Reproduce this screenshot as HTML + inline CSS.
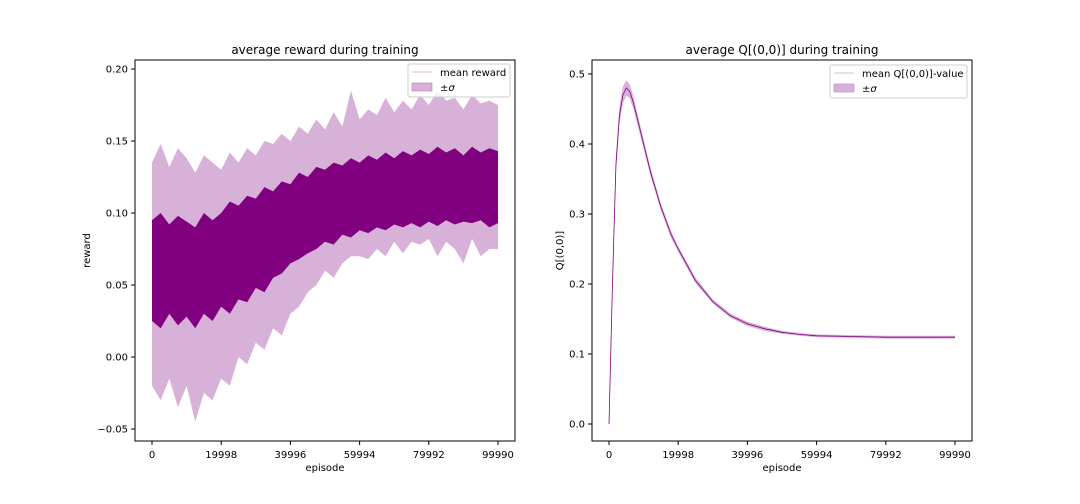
<!DOCTYPE html>
<html><head><meta charset="utf-8"><style>
body{margin:0;background:#fff;}
svg{display:block;font-family:"DejaVu Sans","Liberation Sans",sans-serif;}
</style></head><body>
<svg id="fig" width="1080" height="504" viewBox="0 0 1080 504" xmlns="http://www.w3.org/2000/svg">
<rect width="1080" height="504" fill="#fff"/>
<g id="left"></g>
<g id="right"></g>
</svg>
<script>
// ---- reward chart data (sampled every 2500 episodes) ----
const rewardEpisodes = [0,2500,5000,7500,10000,12500,15000,17500,20000,22500,25000,27500,30000,32500,35000,37500,40000,42500,45000,47500,50000,52500,55000,57500,60000,62500,65000,67500,70000,72500,75000,77500,80000,82500,85000,87500,90000,92500,95000,97500,99990];
const rewardLightUpper = [0.135,0.148,0.132,0.145,0.138,0.128,0.140,0.135,0.130,0.142,0.135,0.145,0.140,0.150,0.148,0.155,0.150,0.160,0.155,0.165,0.158,0.170,0.160,0.185,0.165,0.172,0.168,0.180,0.170,0.178,0.172,0.182,0.175,0.185,0.178,0.180,0.172,0.182,0.176,0.178,0.175];
const rewardLightLower = [-0.02,-0.03,-0.015,-0.035,-0.02,-0.045,-0.025,-0.03,-0.015,-0.02,0.0,-0.005,0.01,0.005,0.02,0.015,0.03,0.035,0.045,0.05,0.06,0.055,0.065,0.07,0.07,0.068,0.075,0.07,0.08,0.072,0.08,0.078,0.082,0.07,0.08,0.075,0.065,0.082,0.07,0.075,0.075];
const rewardDarkUpper = [0.095,0.1,0.092,0.098,0.094,0.09,0.1,0.095,0.1,0.108,0.105,0.112,0.11,0.118,0.115,0.122,0.12,0.128,0.125,0.132,0.13,0.135,0.133,0.138,0.135,0.14,0.137,0.142,0.138,0.143,0.14,0.144,0.141,0.146,0.142,0.145,0.14,0.146,0.142,0.145,0.143];
const rewardDarkLower = [0.025,0.02,0.03,0.022,0.028,0.02,0.03,0.025,0.035,0.03,0.04,0.038,0.048,0.045,0.055,0.058,0.065,0.068,0.072,0.075,0.08,0.078,0.085,0.083,0.088,0.086,0.09,0.088,0.092,0.09,0.093,0.09,0.094,0.091,0.095,0.092,0.094,0.093,0.095,0.09,0.093];
const rewardYTicks = [-0.05,0.00,0.05,0.10,0.15,0.20];
const xTickValues = [0,19998,39996,59994,79992,99990];
// ---- Q chart data ----
const qEpisodes = [0,1000,2000,3000,4000,5000,6000,7000,8000,10000,12000,15000,18000,20000,25000,30000,35000,40000,45000,50000,55000,60000,70000,80000,90000,99990];
const qMean = [0.0,0.2,0.37,0.44,0.47,0.48,0.475,0.46,0.44,0.40,0.36,0.31,0.27,0.25,0.205,0.175,0.155,0.143,0.136,0.131,0.128,0.126,0.125,0.124,0.124,0.124];
const qSigma = [0.0,0.01,0.012,0.012,0.012,0.011,0.01,0.009,0.008,0.007,0.006,0.005,0.005,0.004,0.004,0.003,0.003,0.003,0.003,0.002,0.002,0.002,0.002,0.002,0.002,0.002];
const qYTicks = [0.0,0.1,0.2,0.3,0.4,0.5];

const NS="http://www.w3.org/2000/svg";
function mk(parent,tag,attrs,text){const e=document.createElementNS(NS,tag);for(const k in attrs)e.setAttribute(k,attrs[k]);if(text!==undefined)e.textContent=text;parent.appendChild(e);return e;}

function drawAxes(g,L,R,T,B,xs,ys,yTicks,yFmt,title,ylabel,yLabelX){
  const fr=mk(g,'rect',{x:L,y:T,width:R-L,height:B-T,fill:'none',stroke:'#000','stroke-width':1});
  
  xTickValues.forEach(v=>{const x=xs(v);
    const t=mk(g,'line',{x1:x,x2:x,y1:B,y2:B+4,stroke:'#000'});
    const l=mk(g,'text',{x:x,y:B+17,'font-size':10,'text-anchor':'middle'},String(v));});
  yTicks.forEach(v=>{const y=ys(v);
    const t=mk(g,'line',{x1:L-4,x2:L,y1:y,y2:y,stroke:'#000'});
    const l=mk(g,'text',{x:L-7,y:y+3.5,'font-size':10,'text-anchor':'end'},yFmt(v));});
  const tt=mk(g,'text',{x:(L+R)/2,y:T-6,'font-size':12,'text-anchor':'middle'},title);
  const xl=mk(g,'text',{x:(L+R)/2,y:B+30,'font-size':10,'text-anchor':'middle'},'episode');
  const yl=mk(g,'text',{x:yLabelX,y:(T+B)/2,'font-size':10,'text-anchor':'middle',transform:`rotate(-90 ${yLabelX} ${(T+B)/2})`},ylabel);
}
function legend(g,x,y,w,label){
  const b=mk(g,'rect',{x:x,y:y,width:w,height:33,fill:'#fff','fill-opacity':0.8,stroke:'#ccc',rx:2});
  const l1=mk(g,'line',{x1:x+4,x2:x+24,y1:y+8,y2:y+8,stroke:'#e8d0e8','stroke-width':1.5});
  const t1=mk(g,'text',{x:x+32,y:y+12,'font-size':10},label);
  const r=mk(g,'rect',{x:x+4,y:y+19,width:20,height:8,fill:'#d8b1d8',stroke:'#bf80bf','stroke-width':0.6});
  const t2=mk(g,'text',{x:x+32,y:y+27,'font-size':10},'±');
  mk(t2,'tspan',{'font-style':'italic'},'σ');
}
function band(g,xsArr,lo,hi,xs,ys,fill,name){
  let d='M'+xsArr.map((e,i)=>xs(e)+','+ys(hi[i])).join('L');
  for(let i=xsArr.length-1;i>=0;i--)d+='L'+xs(xsArr[i])+','+ys(lo[i]);
  const p=mk(g,'path',{d:d+'Z',fill:fill});
}
// Left
(function(){
  const g=document.getElementById('left');
  const L=135,R=515,T=60,B=441;
  const xs=v=>152+(v/99990)*(498-152);
  const ys=v=>357-(v/0.05)*72;
  band(g,rewardEpisodes,rewardLightLower,rewardLightUpper,xs,ys,'#d8b1d8','sigma-band');
  band(g,rewardEpisodes,rewardDarkLower,rewardDarkUpper,xs,ys,'#800080','mean-reward-noise');
  drawAxes(g,L,R,T,B,xs,ys,rewardYTicks,v=>(v<0?'−':'')+Math.abs(v).toFixed(2),'average reward during training','reward',90);
  legend(g,408,64,102,'mean reward');
})();
// Right
(function(){
  const g=document.getElementById('right');
  const L=592,R=972,T=60,B=441;
  const xs=v=>609+(v/99990)*(955-609);
  const ys=v=>424-(v/0.5)*350;
  const lo=qMean.map((m,i)=>m-qSigma[i]),hi=qMean.map((m,i)=>m+qSigma[i]);
  band(g,qEpisodes,lo,hi,xs,ys,'#d8b1d8','sigma-band');
  const p=mk(g,'polyline',{points:qEpisodes.map((e,i)=>xs(e)+','+ys(qMean[i])).join(' '),fill:'none',stroke:'#800080','stroke-width':0.8});
  
  drawAxes(g,L,R,T,B,xs,ys,qYTicks,v=>v.toFixed(1),'average Q[(0,0)] during training','Q[(0,0)]',563);
  legend(g,830,65,137,'mean Q[(0,0)]-value');
})();
</script>
</body></html>
